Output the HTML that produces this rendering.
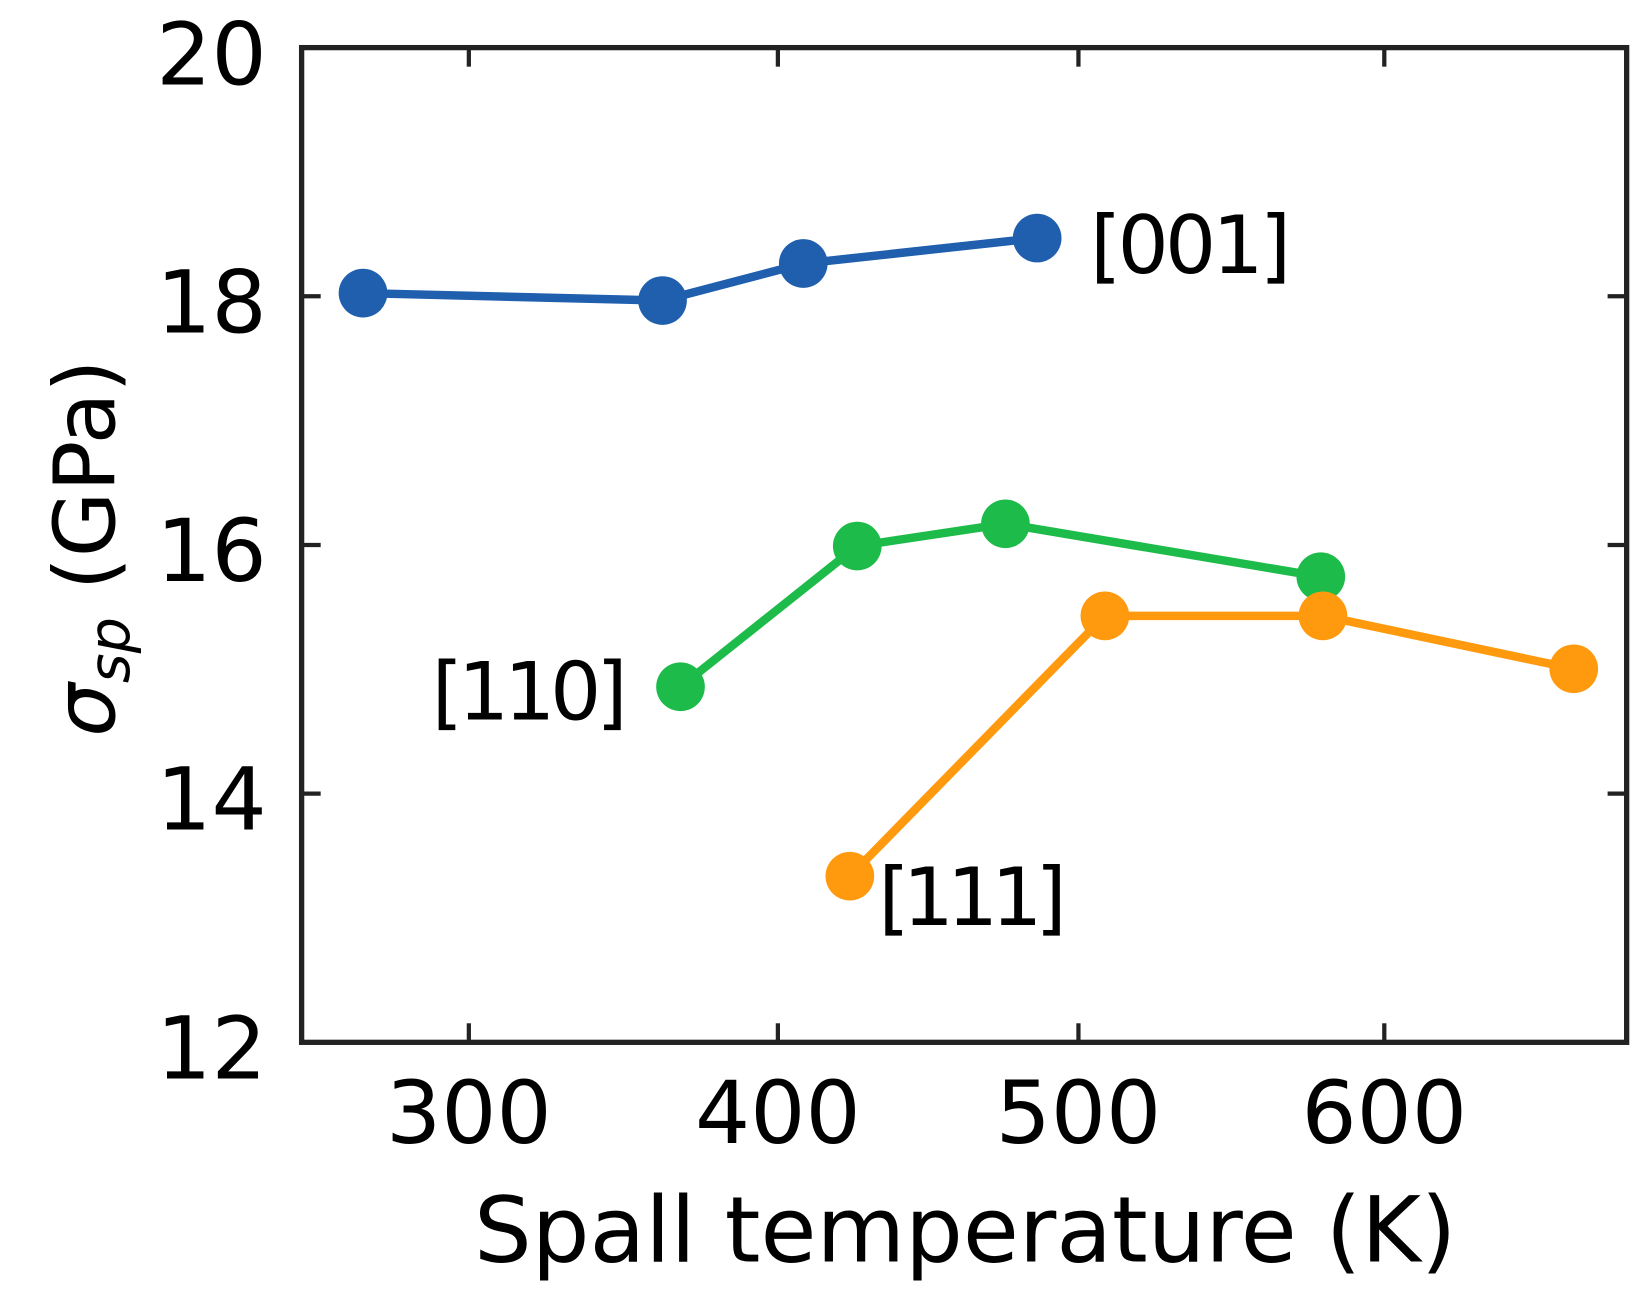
<!DOCTYPE html>
<html><head><style>html,body{margin:0;padding:0;background:#fff}svg{display:block}</style></head>
<body>
<svg width="1651" height="1291" viewBox="0 0 1560 1220" preserveAspectRatio="none" xmlns="http://www.w3.org/2000/svg" font-family="DejaVu Sans, Liberation Sans, sans-serif" fill="#000">
<rect x="285" y="45" width="1252" height="940" fill="none" stroke="#222" stroke-width="5"/>
<g stroke="#222" stroke-width="4">
<line x1="443" y1="985" x2="443" y2="967"/><line x1="735" y1="985" x2="735" y2="967"/><line x1="1019" y1="985" x2="1019" y2="967"/><line x1="1308" y1="985" x2="1308" y2="967"/>
<line x1="443" y1="45" x2="443" y2="63"/><line x1="735" y1="45" x2="735" y2="63"/><line x1="1019" y1="45" x2="1019" y2="63"/><line x1="1308" y1="45" x2="1308" y2="63"/>
<line x1="285" y1="280" x2="303" y2="280"/><line x1="285" y1="515" x2="303" y2="515"/><line x1="285" y1="750" x2="303" y2="750"/>
<line x1="1537" y1="280" x2="1519" y2="280"/><line x1="1537" y1="515" x2="1519" y2="515"/><line x1="1537" y1="750" x2="1519" y2="750"/>
</g>
<g font-size="82" text-anchor="end">
<text x="252" y="80">20</text><text x="252" y="314">18</text><text x="252" y="549">16</text><text x="252" y="784">14</text><text x="252" y="1019">12</text>
</g>
<g font-size="82" text-anchor="middle">
<text x="443" y="1080">300</text><text x="735" y="1080">400</text><text x="1019" y="1080">500</text><text x="1308" y="1080">600</text>
<text x="912" y="1192" font-size="86">Spall temperature (K)</text>
</g>
<text transform="translate(108,518) rotate(-90)" text-anchor="middle" font-size="80"><tspan font-style="italic">σ</tspan><tspan font-style="italic" font-size="54" dy="14">sp</tspan><tspan dy="-14"> (GPa)</tspan></text>
<g stroke-width="8" fill="none">
<polyline stroke="#1f5fad" points="343,277 626,284 759,249 980,225"/>
<polyline stroke="#1dbb4a" points="643,649 810,516 950,495 1248,545"/>
<polyline stroke="#ff9a0e" points="803,828 1044,582 1250,582 1487,632"/>
</g>
<g fill="#1f5fad"><circle cx="343" cy="277" r="23"/><circle cx="626" cy="284" r="23"/><circle cx="759" cy="249" r="23"/><circle cx="980" cy="225" r="23"/></g>
<g fill="#1dbb4a"><circle cx="643" cy="649" r="23"/><circle cx="810" cy="516" r="23"/><circle cx="950" cy="495" r="23"/><circle cx="1248" cy="545" r="23"/></g>
<g fill="#ff9a0e"><circle cx="803" cy="828" r="23"/><circle cx="1044" cy="582" r="23"/><circle cx="1250" cy="582" r="23"/><circle cx="1487" cy="632" r="23"/></g>
<g font-size="76">
<text x="1030" y="258" textLength="190">[001]</text>
<text x="408" y="680" textLength="185">[110]</text>
<text x="830" y="874" textLength="178">[111]</text>
</g>
</svg>
</body></html>
